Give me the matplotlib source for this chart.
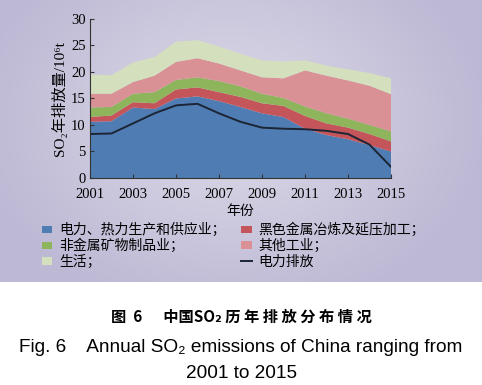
import numpy as np
import matplotlib
matplotlib.use("Agg")
import matplotlib.pyplot as plt
from matplotlib.patches import Patch
from matplotlib.lines import Line2D

years = [2001, 2002, 2003, 2004, 2005, 2006, 2007, 2008, 2009, 2010, 2011, 2012, 2013, 2014, 2015]
power = [10.6, 10.7, 13.3, 13.0, 15.0, 15.4, 14.5, 13.4, 12.2, 11.5, 9.3, 8.1, 7.3, 6.2, 5.0]
steel = [0.9, 1.1, 1.0, 1.1, 1.7, 1.7, 1.7, 1.9, 1.9, 2.1, 2.4, 2.2, 2.2, 2.1, 1.9]
nonmetal = [1.8, 1.6, 1.6, 2.1, 1.8, 1.9, 2.1, 2.0, 1.8, 1.5, 1.8, 1.9, 1.7, 1.7, 1.9]
other_ind = [2.6, 2.5, 2.2, 3.1, 3.4, 3.6, 3.3, 3.0, 3.1, 3.7, 6.8, 7.1, 7.2, 7.4, 7.0]
living = [3.6, 3.5, 3.7, 3.5, 3.8, 3.4, 3.2, 3.1, 3.2, 3.2, 1.9, 1.9, 2.1, 2.4, 3.0]
power_emission = [8.3, 8.4, 10.3, 12.2, 13.7, 14.0, 12.2, 10.6, 9.5, 9.3, 9.2, 8.9, 8.3, 6.3, 2.1]

series_labels = ["电力、热力生产和供应业；", "黑色金属冶炼及延压加工；", "非金属矿物制品业；", "其他工业；", "生活；"]
line_label = "电力排放"
xticks = [2001, 2003, 2005, 2007, 2009, 2011, 2013, 2015]
yticks = [0, 5, 10, 15, 20, 25, 30]
colors = ["#4f7db3", "#c4555a", "#8fb55c", "#d99195", "#d4e0bd"]

W, H = 482, 385
fig = plt.figure(figsize=(W / 100, H / 100), dpi=100)

# background gradient panel
bgh = 282
bg = fig.add_axes([0, 1 - bgh / H, 1, bgh / H])
yy, xx = np.mgrid[0:bgh, 0:W]
d = np.sqrt(((xx - 230) / 260.0) ** 2 + ((yy - 120) / 200.0) ** 2)
d = np.clip(d, 0, 1)
c_in = np.array([0xdd, 0xdb, 0xe9]) / 255.0
c_out = np.array([0xbd, 0xb8, 0xd4]) / 255.0
img = c_in[None, None, :] * (1 - d[..., None]) + c_out[None, None, :] * d[..., None]
bg.imshow(img, aspect="auto", extent=[0, 1, 0, 1])
bg.set_axis_off()

ax = fig.add_axes([90 / W, 1 - 178 / H, 301 / W, 159 / H])
ax.set_facecolor("none")
ax.stackplot(years, power, steel, nonmetal, other_ind, living, colors=colors, linewidth=0)
ax.plot(years, power_emission, color="#1c2535", lw=1.4)

ax.set_xlim(2001, 2015)
ax.set_ylim(0, 30)
ax.set_xticks(xticks)
ax.set_yticks(yticks)
serif = ["Liberation Serif", "DejaVu Serif"]
for lab in ax.get_xticklabels() + ax.get_yticklabels():
    lab.set_family(serif)
    lab.set_fontsize(10.5)
ax.tick_params(direction="in", length=3, width=0.8, color="#333333")
ax.tick_params(axis="x", pad=7)
ax.tick_params(axis="y", pad=3)
for s in ["top", "right"]:
    ax.spines[s].set_visible(False)
for s in ["left", "bottom"]:
    ax.spines[s].set_color("#333333")
    ax.spines[s].set_linewidth(0.8)

ax.set_xlabel("年份", family=["Noto Sans CJK SC"], fontsize=10, labelpad=2)
ax.set_ylabel("SO₂年排放量/10⁶t", family=["Liberation Serif", "Noto Sans CJK SC", "DejaVu Sans"],
              fontsize=11, labelpad=3)

handles = [Patch(facecolor=colors[0]), Patch(facecolor=colors[2]), Patch(facecolor=colors[4]),
           Patch(facecolor=colors[1]), Patch(facecolor=colors[3]),
           Line2D([0], [0], color="#1c2535", lw=1.4)]
labels = [series_labels[0], series_labels[2], series_labels[4],
          series_labels[1], series_labels[3], line_label]
leg = fig.legend(handles, labels, ncol=2, loc="upper left", bbox_to_anchor=(42 / W, 1 - 223 / H),
                 frameon=False, prop={"family": ["Noto Sans CJK SC"], "size": 10},
                 handlelength=0.75, handleheight=0.45, handletextpad=0.5,
                 columnspacing=1.1, labelspacing=0.12, borderpad=0, borderaxespad=0)

fig.text(0.5, 1 - 317 / H, "图  6      中国SO₂ 历 年 排 放 分 布 情 况", ha="center", va="center",
         family=["Noto Sans CJK SC", "DejaVu Sans"], fontsize=11, weight="bold")
fig.text(0.5, 1 - 347 / H, "Fig. 6    Annual SO₂ emissions of China ranging from", ha="center", va="center",
         family=["Liberation Sans", "DejaVu Sans"], fontsize=13.7)
fig.text(0.5, 1 - 373 / H, "2001 to 2015", ha="center", va="center",
         family=["Liberation Sans", "DejaVu Sans"], fontsize=13.7)

fig.savefig("out.png", dpi=100)
